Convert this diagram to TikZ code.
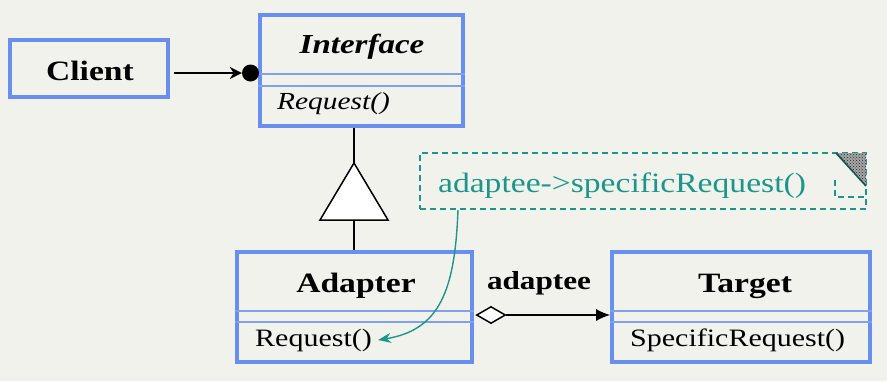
\documentclass[tikz,border=0pt]{standalone}
\usepackage{fontspec}
\setmainfont{Liberation Serif}[FakeStretch=1.2]
\usetikzlibrary{arrows.meta,shapes.geometric,patterns}
\definecolor{bgcol}{RGB}{242,242,236}
\definecolor{boxblue}{RGB}{104,142,240}
\definecolor{rulblue}{RGB}{128,160,240}
\definecolor{notecol}{RGB}{26,150,138}
\tikzset{
  classbox/.style={draw=boxblue, line width=3.6pt, rectangle, inner sep=0pt},
  divider/.style={draw=rulblue, line width=2pt},
  clsname/.style={inner sep=0pt, font=\fontsize{28}{30}\selectfont\bfseries},
  member/.style={inner sep=0pt, anchor=west, font=\fontsize{25}{27}\selectfont},
  link/.style={draw=black, line width=1.5pt},
  notebox/.style={draw=notecol, line width=1.6pt, dash pattern=on 6pt off 4pt, rectangle, inner sep=0pt},
}
\begin{document}
\begin{tikzpicture}[x=1pt,y=-1pt]
  \fill[bgcol] (0,0) rectangle (887,381);
  \useasboundingbox (0,0) rectangle (887,381);

  % Client
  \node[classbox, minimum width=158, minimum height=57] (client) at (89,68.5) {};
  \node[clsname] (clienttxt) at (90,71) {Client};

  % Interface
  \node[classbox, minimum width=203, minimum height=111] (iface) at (361.5,70.5) {};
  \node[clsname, font=\fontsize{27.5}{30}\selectfont\bfseries\itshape] (ifacetxt) at (362,47) {Interface};
  \draw[divider] (iface.west |- 0,74) -- (iface.east |- 0,74);
  \draw[divider] (iface.west |- 0,86) -- (iface.east |- 0,86);
  \node[member, font=\fontsize{24.5}{27}\selectfont\itshape] (ireq) at (277,104) {Request()};

  % Adapter
  \node[classbox, minimum width=235, minimum height=110] (adapter) at (354.5,307) {};
  \node[clsname] (adaptertxt) at (356,286) {Adapter};
  \draw[divider] (adapter.west |- 0,311) -- (adapter.east |- 0,311);
  \draw[divider] (adapter.west |- 0,322) -- (adapter.east |- 0,322);
  \node[member] (areq) at (255,340) {Request()};

  % Target
  \node[classbox, minimum width=258, minimum height=110] (target) at (741,307) {};
  \node[clsname] (targettxt) at (745,286) {Target};
  \draw[divider] (target.west |- 0,311) -- (target.east |- 0,311);
  \draw[divider] (target.west |- 0,322) -- (target.east |- 0,322);
  \node[member] (treq) at (630,340) {SpecificRequest()};

  % Client uses Interface (ball joint)
  \node[circle, fill=black, inner sep=0pt, minimum size=17pt] (ball) at (250.5,73) {};
  \draw[link, -{Stealth[length=12pt,width=12pt]}] ([xshift=4pt]client.east |- ball) -- (ball.west);

  % Adapter realises Interface
  \coordinate (tip) at (354,163);
  \coordinate (base) at (354,220);
  \draw[link] (iface.south -| tip) -- (tip);
  \draw[link, fill=white] (tip) -- (388,220) -- (320,220) -- cycle;
  \draw[link] (base) -- (adapter.north -| base);

  % Adapter holds an adaptee
  \node[diamond, draw=black, fill=white, line width=1.5pt, inner sep=0pt,
        minimum width=29pt, minimum height=17pt] (agg) at (491,315) {};
  \draw[link, -{Latex[length=14pt,width=12pt]}] (agg.east) -- (target.west |- agg);
  \node[inner sep=0pt, font=\fontsize{26}{28}\selectfont\bfseries] (aggtxt) at (539,283) {adaptee};

  % Note with folded corner
  \node[notebox, minimum width=446, minimum height=56] (note) at (643,181) {};
  \node[inner sep=0pt, text=notecol, font=\fontsize{28}{30}\selectfont] (notetxt) at (622,186) {adaptee->specificRequest()};
  \fill[black!35] (837,153) -- (866,153) -- (866,185) -- cycle;
  \fill[pattern=crosshatch dots, pattern color=black!85] (837,153) -- (866,153) -- (866,185) -- cycle;
  \draw[notecol!55!black, line width=1.6pt] (836,153) -- (866,186);
  \draw[notecol, line width=1.6pt, dash pattern=on 6pt off 4pt] (835,180) -- (835,197) -- (866,197);

  % Note attached to Adapter::Request()
  \coordinate (nstart) at (458,209);
  \draw[notecol, line width=1.4pt, -{Stealth[length=13pt,width=10pt]}]
    (note.south -| nstart) .. controls (455,290) and (440,330) .. ([xshift=6pt]areq.east);
\end{tikzpicture}
\end{document}
